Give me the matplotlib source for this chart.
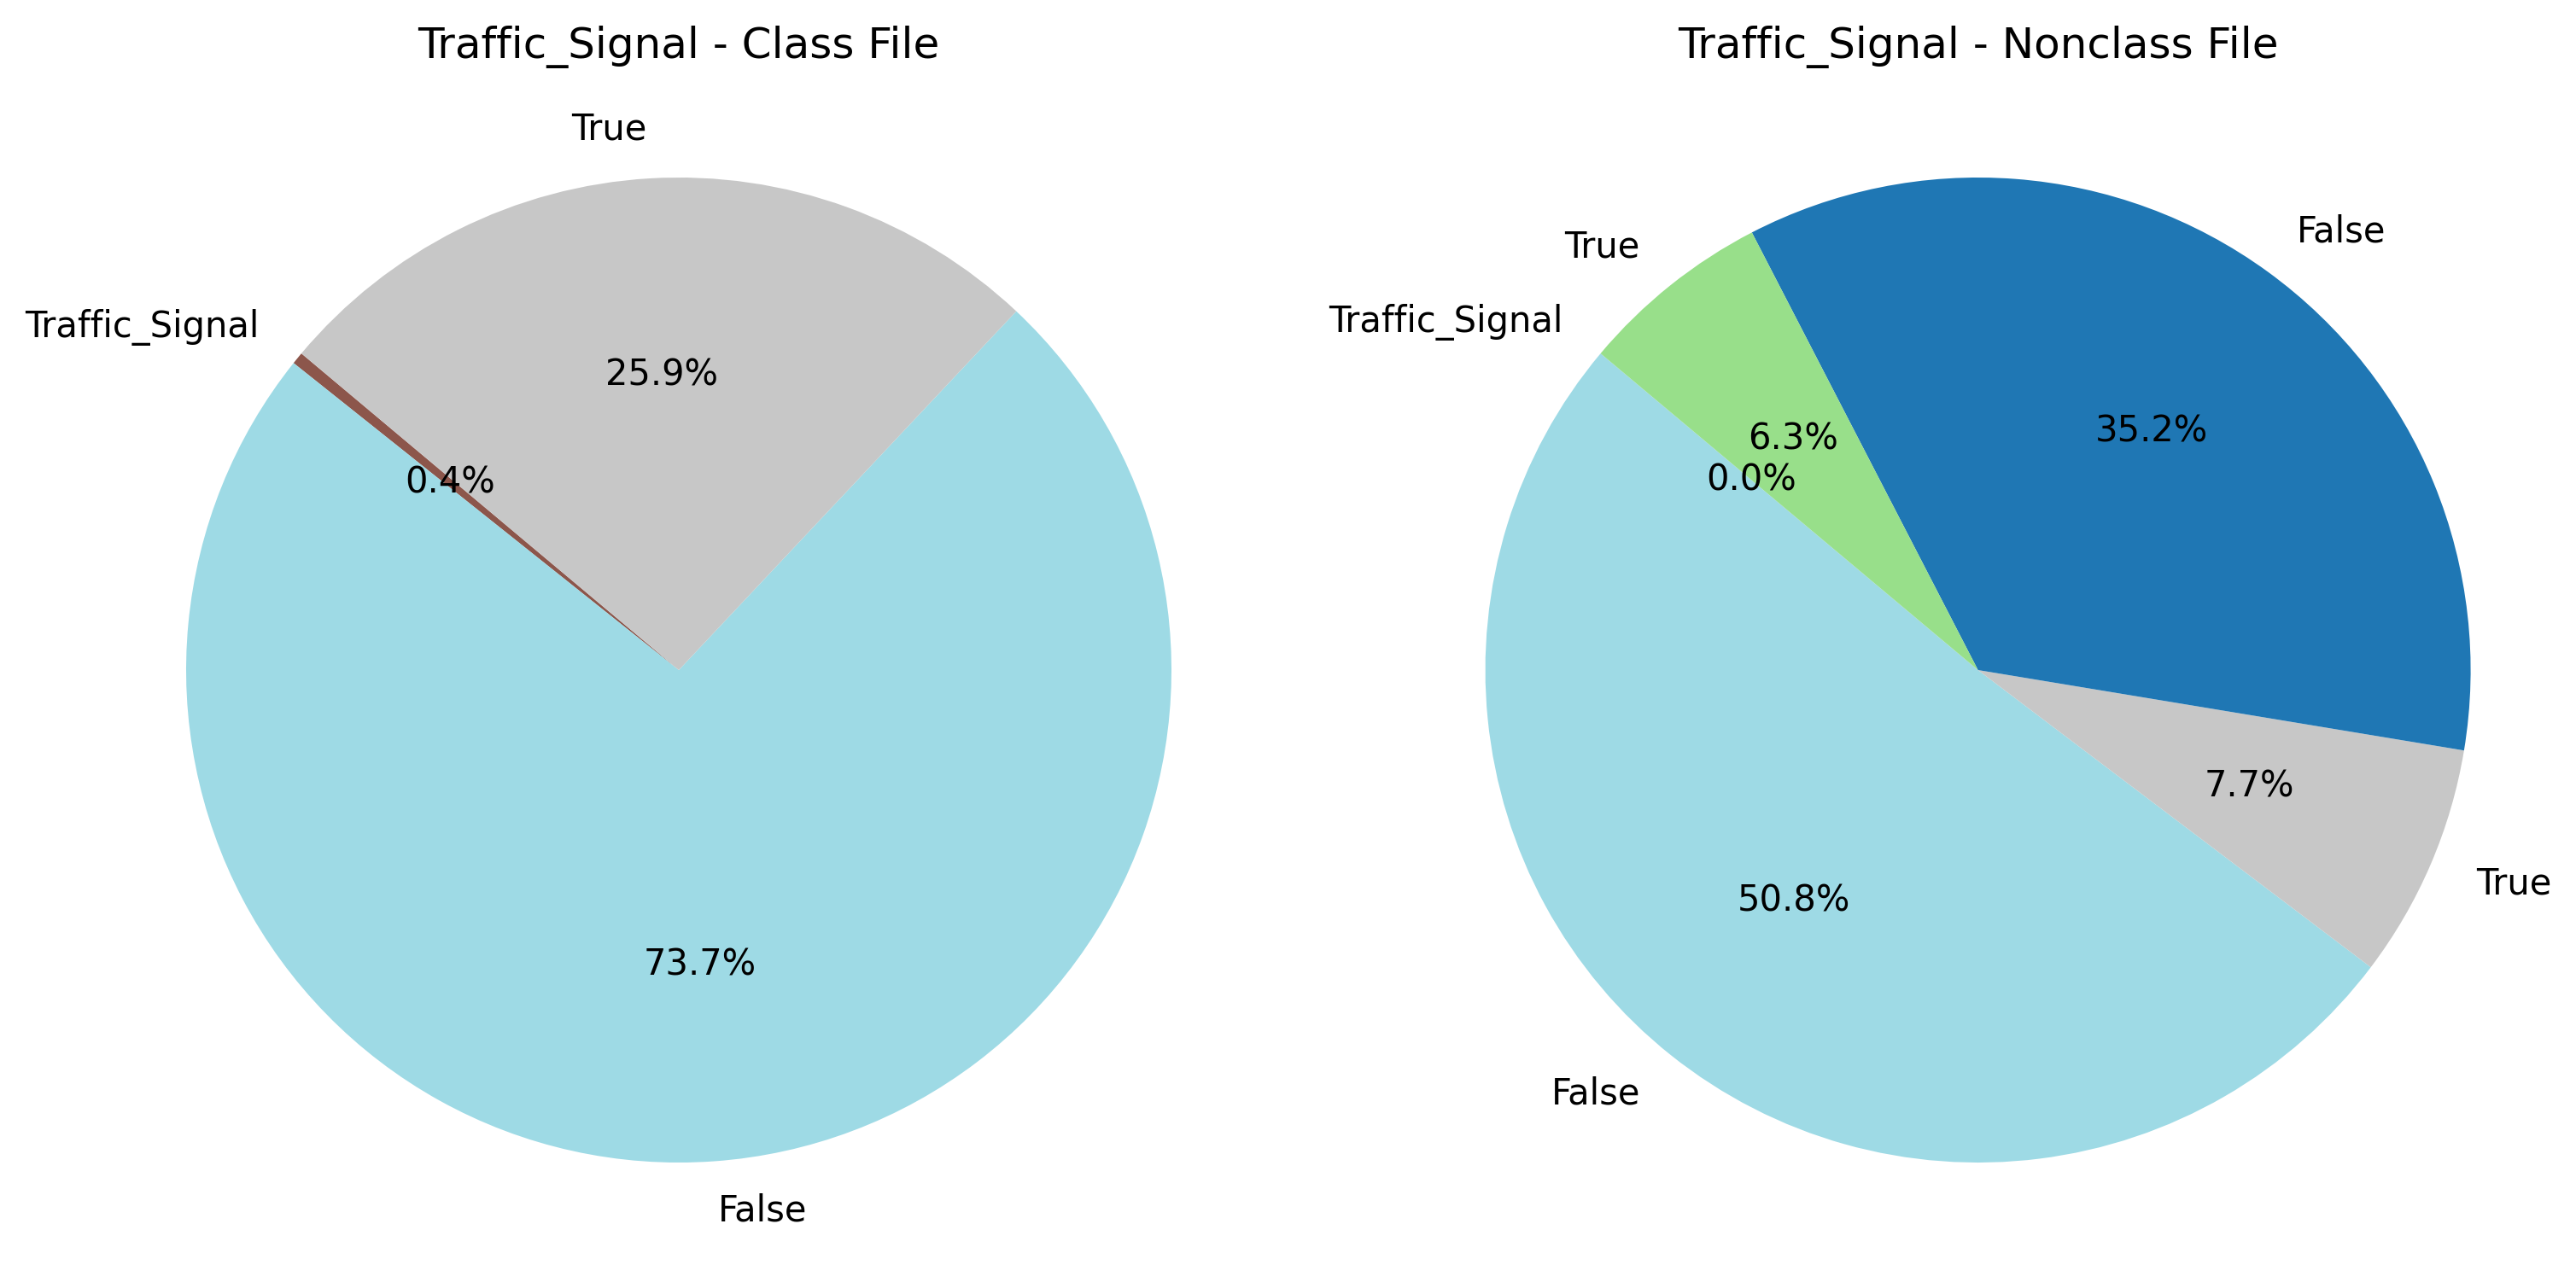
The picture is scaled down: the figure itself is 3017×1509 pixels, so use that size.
import matplotlib.pyplot as plt
import numpy as np

# share of each value in the Traffic_Signal column (percent)
class_labels = ["Traffic_Signal", "False", "True"]
class_values = [0.4, 73.7, 25.9]

nonclass_labels = ["Traffic_Signal", "False", "True", "False", "True"]
nonclass_values = [0.0, 50.8, 7.7, 35.2, 6.3]

# tab20 picks for each wedge
cmap = plt.cm.tab20
class_colors = [cmap(10), cmap(19), cmap(15)]
nonclass_colors = [cmap(10), cmap(19), cmap(15), cmap(0), cmap(5)]

W, H = 3017, 1509
fig = plt.figure(figsize=(W / 300, H / 300), dpi=300)

# pie radius ~577px, axes box spans +-1.25 radii
box = 2.5 * 577
cy = H - 785
ax1 = fig.add_axes([(795 - box / 2) / W, (cy - box / 2) / H, box / W, box / H])
ax2 = fig.add_axes([(2316.6 - box / 2) / W, (cy - box / 2) / H, box / W, box / H])

ax1.pie(class_values, labels=class_labels, colors=class_colors,
        autopct='%1.1f%%', startangle=140)
ax1.set_title("Traffic_Signal - Class File", y=0.997, pad=0)

ax2.pie(nonclass_values, labels=nonclass_labels, colors=nonclass_colors,
        autopct='%1.1f%%', startangle=140)
ax2.set_title("Traffic_Signal - Nonclass File", y=0.997, pad=0)

plt.savefig("out.png")
